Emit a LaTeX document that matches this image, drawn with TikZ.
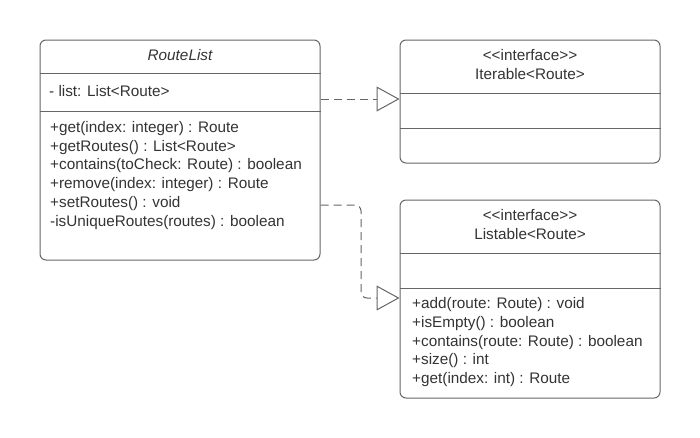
\documentclass[tikz,border=0pt]{standalone}
\usepackage{fontspec}
\setmainfont{Liberation Sans}[Ligatures=TeXOff]
\usetikzlibrary{arrows.meta}
\definecolor{linec}{HTML}{666666}
\definecolor{textc}{HTML}{333333}
\begin{document}
\begin{tikzpicture}[x=1pt,y=-1pt,
  umlbox/.style={draw=linec, line width=1pt, rounded corners=6pt, rectangle, inner sep=0pt},
  divider/.style={draw=linec, line width=1pt},
  txt/.style={text=textc, font=\fontsize{15.3}{18}\selectfont, inner sep=0pt, yshift=-1.5pt},
  ltxt/.style={txt, anchor=mid west},
  ctxt/.style={txt, anchor=mid},
  dep/.style={draw=linec, line width=1pt, dash pattern=on 8pt off 5pt, rounded corners=6pt,
    -{Triangle[open, length=23pt, width=25pt, fill=white]}}]
\useasboundingbox (0,0) rectangle (700,437);

% RouteList
\node[umlbox, minimum width=280pt, minimum height=220pt] (rl) at (180,150) {};
\draw[divider] (rl.west |- 0,73) -- (rl.east |- 0,73);
\draw[divider] (rl.west |- 0,111) -- (rl.east |- 0,111);
\node[ctxt, font=\fontsize{15.3}{18}\selectfont\itshape] (rlt) at (180,56) {RouteList};
\node[ltxt] (rla) at (49,92) {- list: List<Route>};
\node[ltxt] (m1) at (50,128) {+get(index: integer) : Route};
\node[ltxt] (m2) at (50,147) {+getRoutes() : List<Route>};
\node[ltxt] (m3) at (50,165.5) {+contains(toCheck: Route) : boolean};
\node[ltxt] (m4) at (50,184.5) {+remove(index: integer) : Route};
\node[ltxt] (m5) at (50,203) {+setRoutes() : void};
\node[ltxt] (m6) at (50,222) {-isUniqueRoutes(routes) : boolean};

% Iterable
\node[umlbox, minimum width=260pt, minimum height=123pt] (it) at (530,101.5) {};
\draw[divider] (it.west |- 0,93) -- (it.east |- 0,93);
\draw[divider] (it.west |- 0,128) -- (it.east |- 0,128);
\node[ctxt] (its) at (530,56) {<<interface>>};
\node[ctxt] (itn) at (530,75) {Iterable<Route>};

% Listable
\node[umlbox, minimum width=260pt, minimum height=198pt] (ls) at (530,299) {};
\draw[divider] (ls.west |- 0,253) -- (ls.east |- 0,253);
\draw[divider] (ls.west |- 0,288) -- (ls.east |- 0,288);
\node[ctxt] (lss) at (530,216) {<<interface>>};
\node[ctxt] (lsn) at (530,235) {Listable<Route>};
\node[ltxt] (l1) at (412,304) {+add(route: Route) : void};
\node[ltxt] (l2) at (412,323) {+isEmpty() : boolean};
\node[ltxt] (l3) at (412,342) {+contains(route: Route) : boolean};
\node[ltxt] (l4) at (412,360.5) {+size() : int};
\node[ltxt] (l5) at (412,379) {+get(index: int) : Route};

% connectors
\coordinate (bend) at (361,205);
\draw[dep] (rl.east |- 0,99) -- (it.west |- 0,99);
\draw[dep] (rl.east |- bend) -- (bend) -- (bend |- 0,298) -- (ls.west |- 0,298);
\end{tikzpicture}
\end{document}
